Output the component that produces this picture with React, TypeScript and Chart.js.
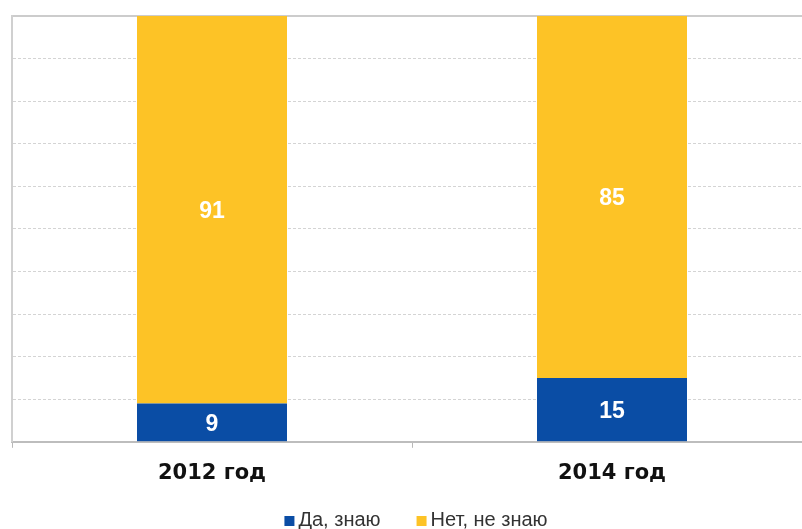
import React, { useEffect, useRef } from "react";
import { Chart, registerables } from "chart.js";

Chart.register(...registerables);

const categories = ["2012 год", "2014 год"];
const yesValues = [9, 15];
const noValues = [91, 85];
const seriesNames = ["Да, знаю", "Нет, не знаю"];

const BLUE = "#0A4DA5";
const YELLOW = "#FDC326";

const valueLabels = {
  id: "valueLabels",
  afterDatasetsDraw(chart: any) {
    const ctx = chart.ctx;
    ctx.save();
    ctx.fillStyle = "#ffffff";
    ctx.font = "bold 23px 'Liberation Sans', Arial, sans-serif";
    ctx.textAlign = "center";
    ctx.textBaseline = "middle";
    chart.data.datasets.forEach((ds: any, i: number) => {
      const meta = chart.getDatasetMeta(i);
      meta.data.forEach((el: any, j: number) => {
        const v = ds.data[j];
        const cy = (el.y + el.base) / 2;
        ctx.fillText(String(v), el.x, cy + 2);
      });
    });
    ctx.restore();
  },
};

// Compact bottom legend (small gap between swatch and text, wide gap between items)
const compactLegend = {
  id: "compactLegend",
  afterDraw(chart: any) {
    const ctx = chart.ctx;
    const box = 10;
    const gap = 4;
    const itemGap = 36;
    ctx.save();
    ctx.font = "20px 'Liberation Sans', Arial, sans-serif";
    ctx.textBaseline = "middle";
    ctx.textAlign = "left";
    const items = chart.data.datasets.map((ds: any) => ({
      text: ds.label,
      color: ds.backgroundColor,
      w: ctx.measureText(ds.label).width,
    }));
    const total = items.reduce((s: number, it: any) => s + box + gap + it.w, 0) + itemGap * (items.length - 1);
    const cx = (chart.chartArea.left + chart.chartArea.right) / 2 + 4;
    let x = cx - total / 2;
    const y = chart.height - 9;
    items.forEach((it: any) => {
      ctx.fillStyle = it.color;
      ctx.fillRect(x, y - 4, box, box);
      x += box + gap;
      ctx.fillStyle = "#333333";
      ctx.fillText(it.text, x, y);
      x += it.w + itemGap;
    });
    ctx.restore();
  },
};

export default function App() {
  const ref = useRef<HTMLCanvasElement>(null);
  useEffect(() => {
    if (!ref.current) return;
    const chart = new Chart(ref.current, {
      type: "bar",
      data: {
        labels: categories,
        datasets: [
          {
            label: seriesNames[0],
            data: yesValues,
            backgroundColor: BLUE,
            barPercentage: 0.375,
            categoryPercentage: 1,
          },
          {
            label: seriesNames[1],
            data: noValues,
            backgroundColor: YELLOW,
            barPercentage: 0.375,
            categoryPercentage: 1,
          },
        ],
      },
      options: {
        responsive: false,
        animation: false,
        layout: { padding: { left: 12, top: 16, right: 0, bottom: 30 } },
        plugins: {
          tooltip: { enabled: false },
          legend: { display: false },
        },
        scales: {
          x: {
            stacked: true,
            grid: {
              offset: true,
              drawOnChartArea: false,
              drawTicks: true,
              tickLength: 6,
              tickColor: "#b8b8b8",
              tickWidth: 1,
            },
            border: { color: "#bdbdbd", width: 2 },
            ticks: {
              color: "#111111",
              font: { family: "'DejaVu Sans', Verdana, sans-serif", size: 21, weight: "bold" },
              padding: 13,
            },
          },
          xTop: {
            type: "category",
            position: "top",
            grid: { display: false, drawTicks: false },
            ticks: { display: false },
            border: { color: "#cccccc", width: 2 },
          },
          y: {
            stacked: true,
            min: 0,
            max: 100,
            ticks: { display: false, stepSize: 10 },
            grid: {
              drawTicks: false,
              color: (c: any) => (c.tick && (c.tick.value === 0 || c.tick.value === 100) ? "rgba(0,0,0,0)" : "#d4d4d4"),
              lineWidth: 1,
            },
            border: { color: "#d0d0d0", width: 2, dash: [3, 2] },
          },
        },
      } as any,
      plugins: [valueLabels, compactLegend],
    });
    return () => chart.destroy();
  }, []);
  return (
    <div style={{ position: "absolute", left: 0, top: 0, width: 802, height: 529, overflow: "hidden", background: "#fff" }}>
      <canvas ref={ref} width={812} height={529} style={{ width: 812, height: 529, display: "block" }} />
    </div>
  );
}
